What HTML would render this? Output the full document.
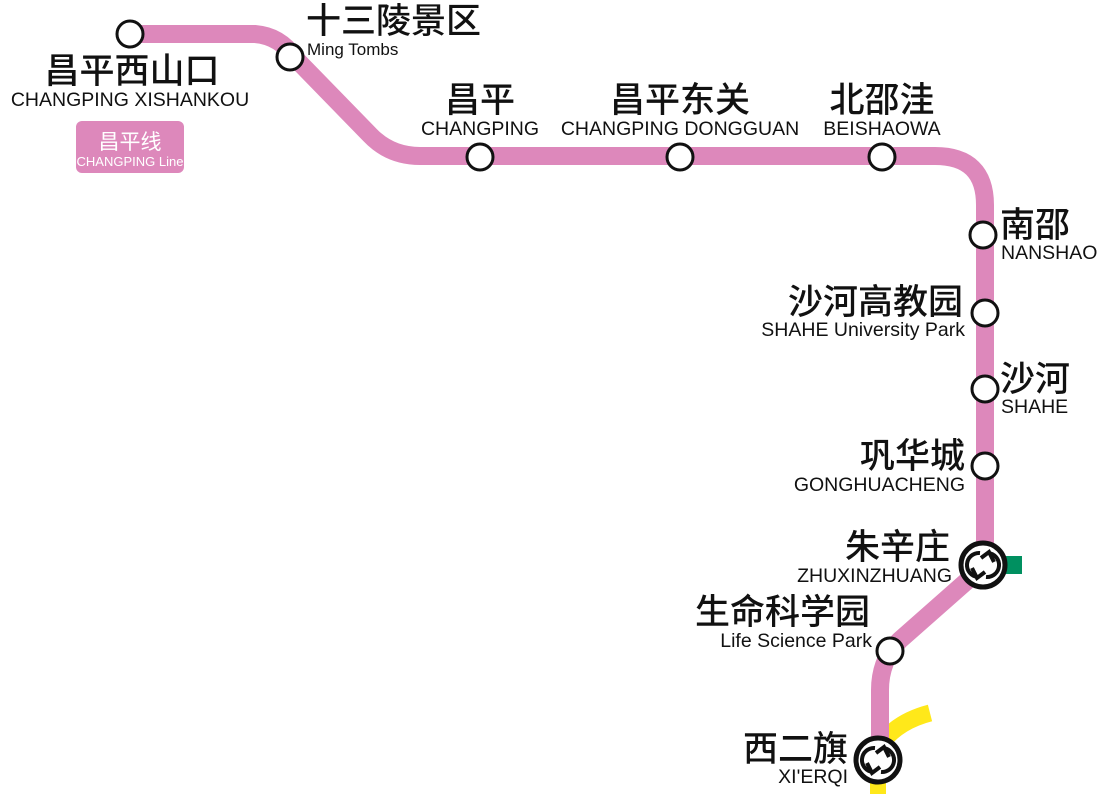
<!DOCTYPE html>
<html><head><meta charset="utf-8"><style>
body{margin:0;background:#fff;}
svg text{font-family:"Liberation Sans","Noto Sans CJK SC",sans-serif;fill:#111;}
.cn{font-size:35px;font-weight:500;}
.en{font-size:19.5px;}
</style></head><body>
<svg width="1117" height="794" viewBox="0 0 1117 794" xmlns="http://www.w3.org/2000/svg">
<rect width="1117" height="794" fill="#fff"/>
<path d="M878 748 Q895 722 930 713" stroke="#ffe81a" stroke-width="17" fill="none"/>
<line x1="878" y1="770" x2="878" y2="794" stroke="#ffe81a" stroke-width="16"/>
<rect x="996" y="556" width="26" height="18" fill="#009060"/>
<path d="M130 34 L255 34 Q280 36 295 58 L370 135 Q390 156 420 156 L935 156 Q985 156 985 205 L985 565 L900 640 Q880 660 880 690 L880 760" stroke="#dd88bb" stroke-width="18" fill="none" stroke-linejoin="round"/>
<g fill="#fff" stroke="#111" stroke-width="3">
<circle cx="130" cy="34" r="13"/>
<circle cx="290" cy="57" r="13"/>
<circle cx="480" cy="157" r="13"/>
<circle cx="680" cy="157" r="13"/>
<circle cx="882" cy="157" r="13"/>
<circle cx="983" cy="235" r="13"/>
<circle cx="985" cy="313" r="13"/>
<circle cx="985" cy="389" r="13"/>
<circle cx="985" cy="466" r="13"/>
<circle cx="890" cy="651" r="13"/>
</g>
<g>
<circle cx="983" cy="565" r="22" fill="#fff" stroke="#111" stroke-width="5"/>
<path d="M980 553 A12 12 0 0 0 978 577 M972 568 L977 578 L985 572" stroke="#111" stroke-width="4" fill="none"/>
<path d="M986 577 A12 12 0 0 0 988 553 M994 562 L989 552 L981 558" stroke="#111" stroke-width="4" fill="none"/>
<circle cx="878" cy="760" r="22" fill="#fff" stroke="#111" stroke-width="5"/>
<path d="M875 748 A12 12 0 0 0 873 772 M867 763 L872 773 L880 767" stroke="#111" stroke-width="4" fill="none"/>
<path d="M881 772 A12 12 0 0 0 883 748 M889 757 L884 747 L876 753" stroke="#111" stroke-width="4" fill="none"/>
</g>
<rect x="76" y="121" width="108" height="52" rx="6" fill="#dd88bb"/>
<text x="130" y="149" text-anchor="middle" style="font-size:21px;fill:#fff">昌平线</text>
<text x="130" y="166" text-anchor="middle" style="font-size:13px;fill:#fff">CHANGPING Line</text>
<text class="cn" x="132" y="83" text-anchor="middle">昌平西山口</text>
<text class="en" x="130" y="106" text-anchor="middle">CHANGPING XISHANKOU</text>
<text class="cn" x="306" y="33">十三陵景区</text>
<text class="en" x="307" y="55" style="font-size:17px">Ming Tombs</text>
<text class="cn" x="480" y="112" text-anchor="middle">昌平</text>
<text class="en" x="480" y="135" text-anchor="middle">CHANGPING</text>
<text class="cn" x="680" y="112" text-anchor="middle">昌平东关</text>
<text class="en" x="680" y="135" text-anchor="middle">CHANGPING DONGGUAN</text>
<text class="cn" x="882" y="112" text-anchor="middle">北邵洼</text>
<text class="en" x="882" y="135" text-anchor="middle">BEISHAOWA</text>
<text class="cn" x="1000" y="237">南邵</text>
<text class="en" x="1001" y="259">NANSHAO</text>
<text class="cn" x="963" y="314" text-anchor="end">沙河高教园</text>
<text class="en" x="965" y="336" text-anchor="end">SHAHE University Park</text>
<text class="cn" x="1000" y="391">沙河</text>
<text class="en" x="1001" y="413">SHAHE</text>
<text class="cn" x="965" y="468" text-anchor="end">巩华城</text>
<text class="en" x="965" y="491" text-anchor="end">GONGHUACHENG</text>
<text class="cn" x="950" y="559" text-anchor="end">朱辛庄</text>
<text class="en" x="952" y="582" text-anchor="end">ZHUXINZHUANG</text>
<text class="cn" x="870" y="624" text-anchor="end">生命科学园</text>
<text class="en" x="872" y="647" text-anchor="end">Life Science Park</text>
<text class="cn" x="848" y="761" text-anchor="end">西二旗</text>
<text class="en" x="848" y="783" text-anchor="end">XI'ERQI</text>
</svg>
</body></html>
